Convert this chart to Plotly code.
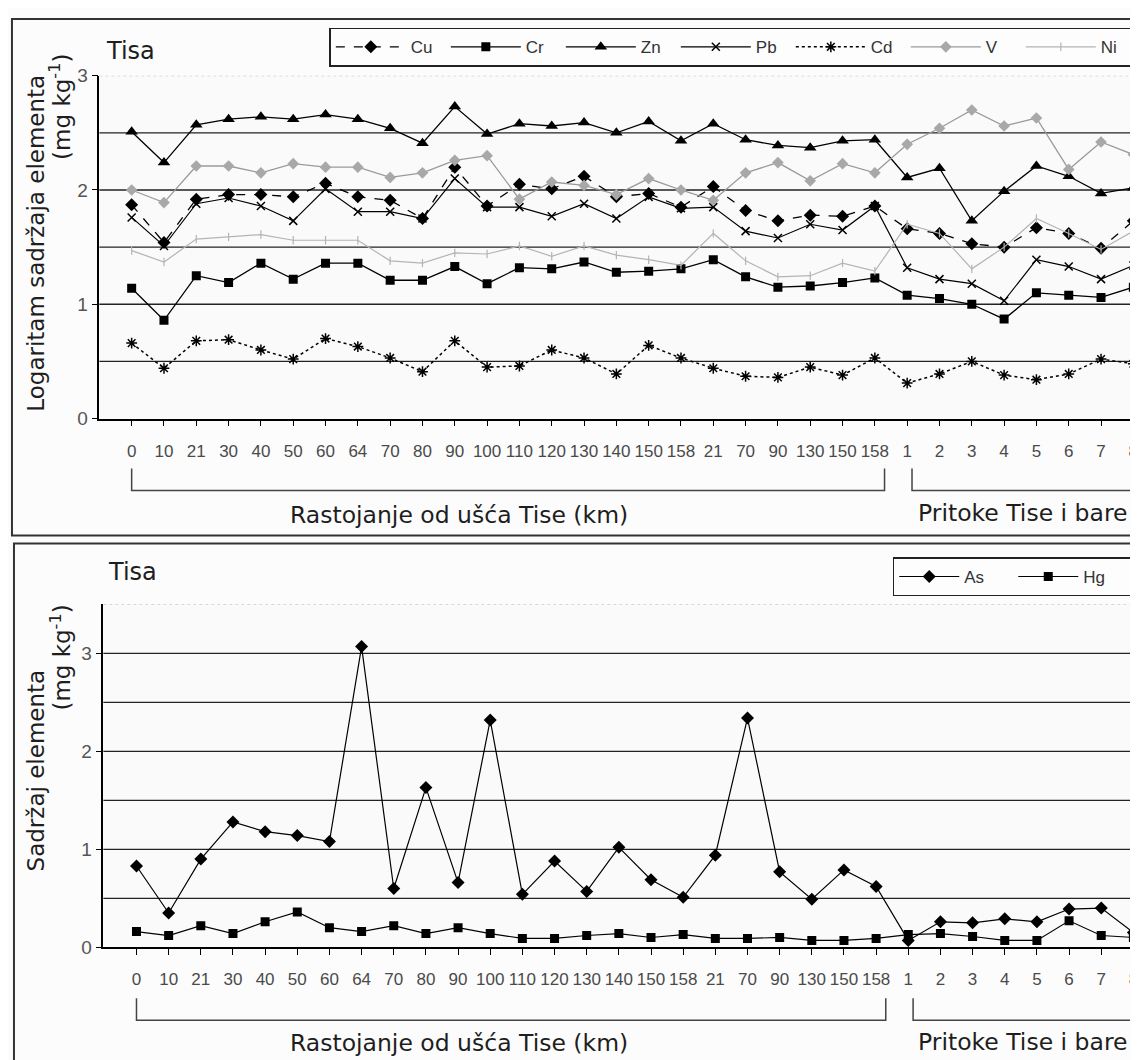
import plotly.graph_objects as go

W, H = 1138, 1060

categories = ["0", "10", "21", "30", "40", "50", "60", "64", "70", "80", "90", "100", "110",
              "120", "130", "140", "150", "158", "21", "70", "90", "130", "150", "158",
              "1", "2", "3", "4", "5", "6", "7", "8"]

cu = [1.87, 1.54, 1.92, 1.96, 1.96, 1.94, 2.06, 1.94, 1.91, 1.75, 2.20, 1.86, 2.05, 2.01, 2.12, 1.94,
      1.97, 1.85, 2.03, 1.82, 1.73, 1.78, 1.77, 1.86, 1.66, 1.62, 1.53, 1.50, 1.67, 1.62, 1.49, 1.73]
cr = [1.14, 0.86, 1.25, 1.19, 1.36, 1.22, 1.36, 1.36, 1.21, 1.21, 1.33, 1.18, 1.32, 1.31, 1.37, 1.28,
      1.29, 1.31, 1.39, 1.24, 1.15, 1.16, 1.19, 1.23, 1.08, 1.05, 1.00, 0.87, 1.10, 1.08, 1.06, 1.15]
zn = [2.51, 2.24, 2.57, 2.62, 2.64, 2.62, 2.66, 2.62, 2.54, 2.41, 2.73, 2.49, 2.58, 2.56, 2.59, 2.50,
      2.60, 2.43, 2.58, 2.44, 2.39, 2.37, 2.43, 2.44, 2.11, 2.19, 1.73, 1.99, 2.21, 2.12, 1.97, 2.02]
pb = [1.76, 1.51, 1.88, 1.93, 1.86, 1.73, 2.01, 1.81, 1.81, 1.75, 2.10, 1.85, 1.85, 1.77, 1.88, 1.75,
      1.94, 1.84, 1.85, 1.64, 1.58, 1.70, 1.65, 1.86, 1.32, 1.22, 1.18, 1.03, 1.39, 1.33, 1.22, 1.34]
cd = [0.66, 0.44, 0.68, 0.69, 0.60, 0.52, 0.70, 0.63, 0.53, 0.41, 0.68, 0.45, 0.46, 0.60, 0.53, 0.39,
      0.64, 0.53, 0.44, 0.37, 0.36, 0.45, 0.38, 0.53, 0.31, 0.39, 0.50, 0.38, 0.34, 0.39, 0.52, 0.48]
v = [2.00, 1.89, 2.21, 2.21, 2.15, 2.23, 2.20, 2.20, 2.11, 2.15, 2.26, 2.30, 1.92, 2.07, 2.04, 1.96,
     2.10, 2.00, 1.91, 2.15, 2.24, 2.08, 2.23, 2.15, 2.40, 2.54, 2.70, 2.56, 2.63, 2.18, 2.42, 2.31]
ni = [1.47, 1.37, 1.57, 1.59, 1.61, 1.56, 1.56, 1.56, 1.38, 1.36, 1.45, 1.44, 1.51, 1.42, 1.51, 1.43,
      1.39, 1.34, 1.62, 1.38, 1.24, 1.25, 1.36, 1.29, 1.70, 1.62, 1.31, 1.50, 1.75, 1.62, 1.48, 1.64]

as_vals = [0.83, 0.35, 0.90, 1.28, 1.18, 1.14, 1.08, 3.07, 0.60, 1.63, 0.66, 2.32, 0.54, 0.88, 0.57, 1.02,
           0.69, 0.51, 0.94, 2.34, 0.77, 0.49, 0.79, 0.62, 0.07, 0.26, 0.25, 0.29, 0.26, 0.39, 0.40, 0.15]
hg = [0.16, 0.12, 0.22, 0.14, 0.26, 0.36, 0.20, 0.16, 0.22, 0.14, 0.20, 0.14, 0.09, 0.09, 0.12, 0.14,
      0.10, 0.13, 0.09, 0.09, 0.10, 0.07, 0.07, 0.09, 0.13, 0.14, 0.11, 0.07, 0.07, 0.27, 0.12, 0.10]

xi = list(range(len(categories)))

# mapping from target-picture pixels to paper fractions (compensates page offset/scaling)
OX, SX = 7.05, 0.9957
OY, SY = 17.25, 0.9807


def px(x):
    return ((x - OX) / SX) / W


def py(y):
    return 1 - ((y - OY) / SY) / H


fig = go.Figure()

top_series = [
    ("Cu", cu, dict(color="black", width=1.3, dash="dash"), dict(symbol="diamond", size=10, color="black")),
    ("Cr", cr, dict(color="black", width=1.3), dict(symbol="square", size=9, color="black")),
    ("Zn", zn, dict(color="black", width=1.3), dict(symbol="triangle-up", size=11, color="black")),
    ("Pb", pb, dict(color="black", width=1.2), dict(symbol="x-thin-open", size=8, color="black",
                                                   line=dict(width=1.5, color="black"))),
    ("Cd", cd, dict(color="black", width=1.5, dash="dot"), dict(symbol="asterisk-open", size=9, color="black",
                                                              line=dict(width=1.5, color="black"))),
    ("V", v, dict(color="#9a9a9a", width=1.3), dict(symbol="diamond", size=9, color="#a8a8a8")),
    ("Ni", ni, dict(color="#b4b4b4", width=1.2), dict(symbol="line-ns-open", size=6, color="#b4b4b4",
                                                     line=dict(width=1.2, color="#b4b4b4"))),
]
for name, vals, ln, mk in top_series:
    fig.add_trace(go.Scatter(x=xi, y=vals, name=name, mode="lines+markers", line=ln, marker=mk,
                             xaxis="x", yaxis="y", legend="legend"))

fig.add_trace(go.Scatter(x=xi, y=as_vals, name="As", mode="lines+markers",
                         line=dict(color="black", width=1.2),
                         marker=dict(symbol="diamond", size=10, color="black"),
                         xaxis="x2", yaxis="y2", legend="legend2"))
fig.add_trace(go.Scatter(x=xi, y=hg, name="Hg", mode="lines+markers",
                         line=dict(color="black", width=1.2),
                         marker=dict(symbol="square", size=9, color="black"),
                         xaxis="x2", yaxis="y2", legend="legend2"))

tickfont = dict(family="Liberation Sans, Arial, sans-serif", size=17, color="#4a4a4a")
ytickfont = dict(family="Liberation Sans, Arial, sans-serif", size=19, color="#555555")

common_x = dict(tickmode="array", tickvals=xi, ticktext=categories, ticks="outside", ticklen=6,
                tickcolor="black", tickwidth=1.2, showline=True, linecolor="black", linewidth=1.5,
                showgrid=False, zeroline=False, tickfont=tickfont, ticklabelstandoff=10,
                ticklabeloverflow="allow", fixedrange=True)
common_y = dict(ticks="outside", ticklen=6, tickcolor="black", tickwidth=1.2, showline=True,
                linecolor="black", linewidth=1.5, showgrid=False, zeroline=False, tickfont=ytickfont,
                fixedrange=True)

legfont = dict(family="Liberation Sans, Arial, sans-serif", size=17, color="#333")
fig.update_layout(
    width=W, height=H,
    margin=dict(l=0, r=0, t=0, b=0),
    paper_bgcolor="#fcfcfc",
    plot_bgcolor="#fafafa",
    xaxis=dict(domain=[px(98), min(1.0, px(1134))], range=[-1, 31.2], anchor="y", **common_x),
    yaxis=dict(domain=[py(418), py(75)], range=[0, 3], tickvals=[0, 1, 2, 3], anchor="x", **common_y),
    xaxis2=dict(domain=[px(102), min(1.0, px(1134))], range=[-1.03, 31.2], anchor="y2", **common_x),
    yaxis2=dict(domain=[py(947), py(604)], range=[0, 3.5], tickvals=[0, 1, 2, 3], anchor="x2", **common_y),
    legend=dict(orientation="h", x=px(327), y=py(27), xanchor="left", yanchor="top",
                bordercolor="#222", borderwidth=1.5, bgcolor="#fdfdfd", font=legfont,
                itemwidth=70, entrywidth=30, tracegroupgap=0),
    legend2=dict(orientation="h", x=px(888), y=py(557), xanchor="left", yanchor="top",
                 bordercolor="#222", borderwidth=1.5, bgcolor="#fdfdfd", font=legfont,
                 itemwidth=60, entrywidth=44),
    showlegend=True,
)

shapes = []
# gridlines
for val in [0.5, 1, 1.5, 2, 2.5]:
    shapes.append(dict(type="line", xref="x domain", yref="y", x0=0, x1=1, y0=val, y1=val,
                       line=dict(color="#222", width=1.3), layer="below"))
for val in [0.5, 1, 1.5, 2, 2.5, 3]:
    shapes.append(dict(type="line", xref="x2 domain", yref="y2", x0=0, x1=1, y0=val, y1=val,
                       line=dict(color="#222", width=1.3), layer="below"))
# plot area top/right borders (light dotted)
shapes.append(dict(type="line", xref="x domain", yref="y", x0=0, x1=1, y0=3, y1=3,
                   line=dict(color="#b0b0b0", width=1, dash="dot"), layer="below"))
shapes.append(dict(type="line", xref="x domain", yref="y domain", x0=1, x1=1, y0=0, y1=1,
                   line=dict(color="#b0b0b0", width=1, dash="dot"), layer="below"))
shapes.append(dict(type="line", xref="x2 domain", yref="y2", x0=0, x1=1, y0=3.5, y1=3.5,
                   line=dict(color="#b0b0b0", width=1, dash="dot"), layer="below"))
shapes.append(dict(type="line", xref="x2 domain", yref="y2 domain", x0=1, x1=1, y0=0, y1=1,
                   line=dict(color="#b0b0b0", width=1, dash="dot"), layer="below"))

# brackets under the category axis
for xr, ytop, ybot in [("x", 468, 490), ("x2", 998, 1020)]:
    for a, b in [(0, 23.3), (24.15, 31)]:
        shapes.append(dict(type="path", xref=xr, yref="paper",
                           path=f"M {a},{py(ytop)} L {a},{py(ybot)} L {b},{py(ybot)} L {b},{py(ytop)}",
                           line=dict(color="#444", width=1.5)))

# panel frames
shapes.append(dict(type="rect", xref="paper", yref="paper", x0=max(0.001, px(11)), x1=1.02,
                   y0=py(535), y1=min(0.999, py(13)),
                   line=dict(color="#333", width=2), layer="below"))
shapes.append(dict(type="rect", xref="paper", yref="paper", x0=max(0.001, px(13)), x1=1.02,
                   y0=-0.02, y1=py(543),
                   line=dict(color="#333", width=2), layer="below"))
fig.update_layout(shapes=shapes)

yfont = dict(family="DejaVu Sans, sans-serif", size=23, color="#1e1e1e")
xfont = dict(family="DejaVu Sans, sans-serif", size=23.5, color="#1e1e1e")
tisafont = dict(family="DejaVu Sans, sans-serif", size=24, color="#1e1e1e")
ann = [
    dict(text="Tisa", x=px(103), y=py(50), xanchor="left", yanchor="middle", font=tisafont),
    dict(text="Tisa", x=px(105), y=py(572), xanchor="left", yanchor="middle", font=tisafont),
    dict(text="Logaritam sadržaja elementa", x=px(35), y=py(243), textangle=-90, font=yfont,
         xanchor="center", yanchor="middle"),
    dict(text="(mg kg<sup>-1</sup>)", x=px(59), y=py(106), textangle=-90, font=yfont,
         xanchor="center", yanchor="middle"),
    dict(text="Sadržaj elementa", x=px(35), y=py(770), textangle=-90, font=yfont,
         xanchor="center", yanchor="middle"),
    dict(text="(mg kg<sup>-1</sup>)", x=px(60), y=py(657), textangle=-90, font=yfont,
         xanchor="center", yanchor="middle"),
    dict(text="Rastojanje od ušća Tise (km)", x=px(456), y=py(515), font=xfont,
         xanchor="center", yanchor="middle"),
    dict(text="Pritoke Tise i bare", x=px(1018), y=py(513), font=xfont, xanchor="center", yanchor="middle"),
    dict(text="Rastojanje od ušća Tise (km)", x=px(456), y=py(1043), font=xfont,
         xanchor="center", yanchor="middle"),
    dict(text="Pritoke Tise i bare", x=px(1018), y=py(1042), font=xfont, xanchor="center", yanchor="middle"),
]
for a in ann:
    a.update(xref="paper", yref="paper", showarrow=False)
fig.update_layout(annotations=ann)

fig.write_html("out.html")
